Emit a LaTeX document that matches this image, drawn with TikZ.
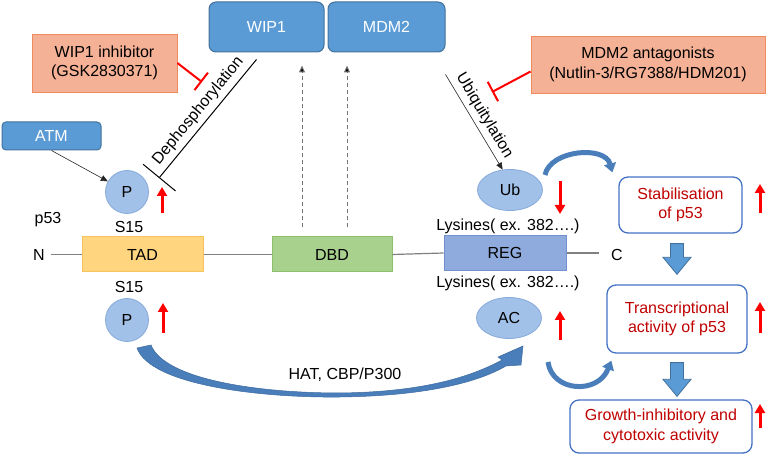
\documentclass[tikz,border=0pt]{standalone}
\usepackage{fontspec}
\setmainfont{Liberation Sans}
\usetikzlibrary{arrows.meta,shapes.geometric,calc}
\definecolor{bxblue}{HTML}{5B9BD5}
\definecolor{bxline}{HTML}{41719C}
\definecolor{salfill}{HTML}{F5B195}
\definecolor{salline}{HTML}{F08A5D}
\definecolor{circfill}{HTML}{A2C1E8}
\definecolor{circline}{HTML}{86AADB}
\definecolor{tadfill}{HTML}{FFD580}
\definecolor{tadline}{HTML}{F7C35C}
\definecolor{dbdfill}{HTML}{A9D18E}
\definecolor{dbdline}{HTML}{8DBF6D}
\definecolor{regfill}{HTML}{8FAADC}
\definecolor{regline}{HTML}{7090CF}
\definecolor{resline}{HTML}{4472C4}
\definecolor{restext}{HTML}{C00000}
\definecolor{arrred}{HTML}{FF0000}
\definecolor{curvblue}{HTML}{4A7EBB}
\definecolor{curvline}{HTML}{3C6A9E}
\definecolor{pline}{HTML}{808080}
\newcommand\blockarrow[2]{\filldraw[barr] let \p1=(#1), \p2=(#2) in
  (\x1-6.5pt,\y1) -- (\x1+6.5pt,\y1) -- (\x1+6.5pt,\y2+17pt) -- (\x1+14pt,\y2+17pt)
  -- (\x1,\y2) -- (\x1-14pt,\y2+17pt) -- (\x1-6.5pt,\y2+17pt) -- cycle;}
\begin{document}
\begin{tikzpicture}[x=1pt,y=-1pt,
  font=\fontsize{16}{19.5}\selectfont,
  bluebox/.style={draw=bxline, fill=bxblue, rounded corners=7pt, line width=1pt, text=white, inner sep=0pt, align=center},
  salbox/.style={draw=salline, fill=salfill, line width=0.8pt, inner sep=0pt, align=center},
  pcirc/.style={circle, draw=circline, fill=circfill, line width=0.8pt, minimum size=43pt, inner sep=0pt},
  pell/.style={ellipse, draw=circline, fill=circfill, line width=0.8pt, minimum width=65pt, minimum height=41pt, inner sep=0pt},
  dombox/.style={line width=1pt, inner sep=0pt, minimum height=35pt},
  resbox/.style={draw=resline, fill=white, line width=1.3pt, rounded corners=9pt, text=restext, inner sep=0pt, align=center},
  lbl/.style={inner sep=2pt},
  redup/.style={draw=arrred, line width=3pt, -{Triangle[width=10pt,length=9pt]}},
  redinh/.style={draw=arrred, line width=2pt, -{Bar[width=22pt]}},
  thinarr/.style={draw=black!85, line width=0.6pt, -{Triangle[width=6pt,length=7pt]}},
  dasharr/.style={draw=black!55, line width=1pt, dash pattern=on 4pt off 3pt, -{Triangle[width=6pt,length=7pt,fill=black]}},
  pl/.style={draw=pline, line width=1.2pt},
  curv/.style={draw=curvblue, line width=5pt, -{Triangle[width=12pt,length=9pt]}},
  barr/.style={fill=bxblue, draw=bxline, line width=0.8pt}]
\useasboundingbox (0,0) rectangle (772,457);

% top boxes
\node[bluebox, minimum width=115pt, minimum height=50pt] (wip1) at (266.5,27) {WIP1};
\node[bluebox, minimum width=117pt, minimum height=50pt] (mdm2) at (386.5,27) {MDM2};
\node[salbox, minimum width=145pt, minimum height=58pt] (wipinh) at (104.5,63) {WIP1 inhibitor\\(GSK2830371)};
\node[salbox, minimum width=234pt, minimum height=57pt] (mdmant) at (648,64.5) {MDM2 antagonists\\(Nutlin-3/RG7388/HDM201)};
\node[bluebox, rounded corners=4pt, minimum width=99pt, minimum height=28pt] (atm) at (51.5,136) {ATM};

% p53 domains
\node[lbl] (p53) at (48,220) {p53};
\node[lbl] (s15a) at (129,227) {S15};
\node[lbl] (nlab) at (39,254.5) {N};
\node[dombox, draw=tadline, fill=tadfill, minimum width=121pt] (tad) at (142.5,254.5) {TAD};
\node[dombox, draw=dbdline, fill=dbdfill, minimum width=120pt] (dbd) at (332,254.5) {DBD};
\node[dombox, draw=regline, fill=regfill, minimum width=122pt] (reg) at (505,253) {REG};
\node[lbl] (clab) at (617,255) {C};
\node[lbl] (s15b) at (129,287) {S15};
\node[lbl] (lys1) at (508,226) {Lysines( ex. 382….)};
\node[lbl] (lys2) at (508,283) {Lysines( ex. 382….)};

\draw[pl] ($(nlab.east)+(4,0)$) -- (tad.west);
\draw[pl] (tad.east) -- (dbd.west);
\draw[pl] (dbd.east) -- (reg.west);
\draw[pl] (reg.east) -- ($(clab.west)+(-10,-2)$);

% modification nodes
\node[pcirc] (p1) at (127,192) {P};
\node[pcirc] (p2) at (127,320) {P};
\node[pell] (ub) at (510,190) {Ub};
\node[pell] (ac) at (509,318) {AC};

% results
\node[resbox, minimum width=123pt, minimum height=56pt] (stab) at (680.5,205) {Stabilisation\\of p53};
\node[resbox, minimum width=140pt, minimum height=68pt] (trans) at (677,319) {Transcriptional\\activity of p53};
\node[resbox, minimum width=182pt, minimum height=53pt] (growth) at (661,426.5) {Growth-inhibitory and\\cytotoxic activity};

% red arrows
\draw[redup] (162,213) -- (162,187);
\draw[redup] (163,333) -- (163,303);
\draw[redup] (560,181) -- (560,214);
\draw[redup] (560,340) -- (560,311);
\draw[redup] (760,213) -- (760,184);
\draw[redup] (760,333) -- (760,302);
\draw[redup] (760,428) -- (760,404);

% inhibitions
\draw[redinh] (wipinh.east) -- (202,82);
\draw[redinh] ($(mdmant.west)+(0,7)$) -- (492,92);

% dephosphorylation
\coordinate (dephEnd) at (159,178);
\draw[black, line width=1pt, -{Bar[width=42pt]}] ($(wip1.south west)+(48,7)$) -- (dephEnd)
  node[midway, sloped, above=1pt, text=black] {Dephosphorylation};

% ubiquitylation
\draw[thinarr] ($(mdm2.south east)+(0,22)$) -- (ub.110)
  node[midway, sloped, above=1pt, text=black] {Ubiquitylation};

% ATM
\draw[thinarr] (atm.south) -- (p1.151);

% dashed arrows
\draw[dasharr] ($(dbd.north)+(-30,-9)$) -- ($(dbd.north |- wip1.south)+(-30,13)$);
\draw[dasharr] ($(dbd.north)+(15,-9)$) -- ($(dbd.north |- wip1.south)+(15,13)$);

% curved arrows
\draw[curv] ($(ub.center)+(35,-15)$) .. controls (550,150) and (605,145) .. ($(stab.north west)+(-6,-4)$);
\draw[curv] ($(ac.center)+(39,44)$) .. controls (552,392) and (598,395) .. ($(trans.south west)+(5,7)$);

% HAT tapered arrow
\filldraw[fill=curvblue, draw=curvline, line width=0.5pt]
  (137,348) .. controls (150,385) and (260,398) .. (340,397)
  .. controls (420,396) and (475,384) .. (506,366)
  -- (521,365) -- (523,346) -- (498,357) -- (502,360)
  .. controls (465,380) and (415,392) .. (340,393)
  .. controls (260,393) and (165,380) .. (151,345) -- cycle;
\node[lbl] (hat) at (345,375) {HAT, CBP/P300};

% block arrows
\blockarrow{$(trans.north |- stab.south)+(0,10)$}{$(trans.north)+(0,-10)$}
\blockarrow{$(trans.south)+(0,9)$}{$(growth.north)+(0,-3)$}
\end{tikzpicture}
\end{document}
